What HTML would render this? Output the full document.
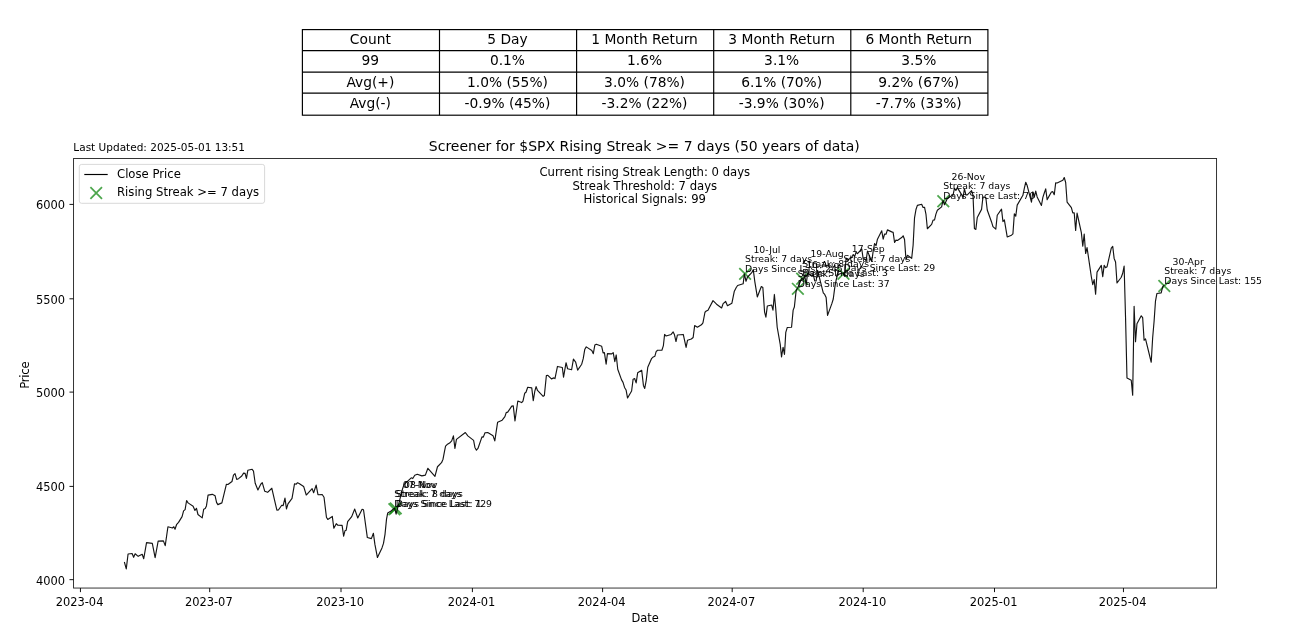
<!DOCTYPE html>
<html lang="en"><head><meta charset="utf-8"><title>Screener for $SPX Rising Streak</title>
<style>
html,body{margin:0;padding:0;background:#fff;}
body{width:1292px;height:634px;overflow:hidden;}
svg{display:block;}
svg text{font-family:'DejaVu Sans', 'Liberation Sans', sans-serif;fill:#000;}
.tbl text{font-size:13.8px;text-anchor:middle;}
.tick text{font-size:11.43px;}
.ann text{font-size:9.32px;white-space:pre;}
.ctr text{font-size:11.65px;text-anchor:middle;}
.leg text{font-size:11.65px;}
</style></head><body>
<svg width="1292" height="634" viewBox="0 0 1292 634">
<rect width="1292" height="634" fill="#fff"/>

<g class="tbl">
<g stroke="#000" stroke-width="1.17" fill="none">
<rect x="302.4" y="29.6" width="685.50" height="85.60"/>
<line x1="302.4" y1="50.60" x2="987.9" y2="50.60"/>
<line x1="302.4" y1="72.10" x2="987.9" y2="72.10"/>
<line x1="302.4" y1="93.20" x2="987.9" y2="93.20"/>
<line x1="439.50" y1="29.6" x2="439.50" y2="115.2"/>
<line x1="576.60" y1="29.6" x2="576.60" y2="115.2"/>
<line x1="713.70" y1="29.6" x2="713.70" y2="115.2"/>
<line x1="850.80" y1="29.6" x2="850.80" y2="115.2"/>
</g>
<text x="370.35" y="44.45">Count</text>
<text x="507.45" y="44.45">5 Day</text>
<text x="644.55" y="44.45">1 Month Return</text>
<text x="781.65" y="44.45">3 Month Return</text>
<text x="918.75" y="44.45">6 Month Return</text>
<text x="370.35" y="65.00">99</text>
<text x="507.45" y="65.00">0.1%</text>
<text x="644.55" y="65.00">1.6%</text>
<text x="781.65" y="65.00">3.1%</text>
<text x="918.75" y="65.00">3.5%</text>
<text x="370.35" y="86.85">Avg(+)</text>
<text x="507.45" y="86.85">1.0% (55%)</text>
<text x="644.55" y="86.85">3.0% (78%)</text>
<text x="781.65" y="86.85">6.1% (70%)</text>
<text x="918.75" y="86.85">9.2% (67%)</text>
<text x="370.35" y="108.40">Avg(-)</text>
<text x="507.45" y="108.40">-0.9% (45%)</text>
<text x="644.55" y="108.40">-3.2% (22%)</text>
<text x="781.65" y="108.40">-3.9% (30%)</text>
<text x="918.75" y="108.40">-7.7% (33%)</text>
</g>
<text x="73.35" y="151.4" font-size="10.53">Last Updated: 2025-05-01 13:51</text>
<text x="645.05" y="150.6" font-size="13.98" text-anchor="middle" dx="-0.7">Screener for $SPX Rising Streak &gt;= 7 days (50 years of data)</text>
<g class="tick">
<g stroke="#000" stroke-width="0.93">
<line x1="80.44" y1="588.05" x2="80.44" y2="592.13"/>
<line x1="209.70" y1="588.05" x2="209.70" y2="592.13"/>
<line x1="341.00" y1="588.05" x2="341.00" y2="592.13"/>
<line x1="472.40" y1="588.05" x2="472.40" y2="592.13"/>
<line x1="602.60" y1="588.05" x2="602.60" y2="592.13"/>
<line x1="732.20" y1="588.05" x2="732.20" y2="592.13"/>
<line x1="863.20" y1="588.05" x2="863.20" y2="592.13"/>
<line x1="994.50" y1="588.05" x2="994.50" y2="592.13"/>
<line x1="1123.44" y1="588.05" x2="1123.44" y2="592.13"/>
<line x1="73.55" y1="579.67" x2="69.47" y2="579.67"/>
<line x1="73.55" y1="486.40" x2="69.47" y2="486.40"/>
<line x1="73.55" y1="392.10" x2="69.47" y2="392.10"/>
<line x1="73.55" y1="298.80" x2="69.47" y2="298.80"/>
<line x1="73.55" y1="204.40" x2="69.47" y2="204.40"/>
</g>
<text x="79.54" y="605.5" text-anchor="middle">2023-04</text>
<text x="208.80" y="605.5" text-anchor="middle">2023-07</text>
<text x="340.10" y="605.5" text-anchor="middle">2023-10</text>
<text x="471.50" y="605.5" text-anchor="middle">2024-01</text>
<text x="601.70" y="605.5" text-anchor="middle">2024-04</text>
<text x="731.30" y="605.5" text-anchor="middle">2024-07</text>
<text x="862.30" y="605.5" text-anchor="middle">2024-10</text>
<text x="993.60" y="605.5" text-anchor="middle">2025-01</text>
<text x="1122.54" y="605.5" text-anchor="middle">2025-04</text>
<text x="65.0" y="584.67" text-anchor="end">4000</text>
<text x="65.0" y="491.40" text-anchor="end">4500</text>
<text x="65.0" y="397.10" text-anchor="end">5000</text>
<text x="65.0" y="303.80" text-anchor="end">5500</text>
<text x="65.0" y="209.40" text-anchor="end">6000</text>
</g>
<text x="645.05" y="621.8" font-size="11.45" text-anchor="middle">Date</text>
<text transform="translate(29,375.27) rotate(-90)" font-size="11.65" letter-spacing="-0.25" text-anchor="middle">Price</text>
<clipPath id="axclip"><rect x="73.55" y="158.5" width="1143.00" height="429.55"/></clipPath>
<g stroke="#008000" stroke-opacity="0.7" stroke-width="1.75" stroke-linecap="butt" fill="none">
<path d="M388.54 503.36L400.20 515.02M388.54 515.02L400.20 503.36"/>
<path d="M389.96 502.54L401.62 514.20M389.96 514.20L401.62 502.54"/>
<path d="M739.28 268.08L750.94 279.74M739.28 279.74L750.94 268.08"/>
<path d="M792.04 283.00L803.70 294.66M792.04 294.66L803.70 283.00"/>
<path d="M796.31 272.88L807.97 284.54M796.31 284.54L807.97 272.88"/>
<path d="M837.66 267.95L849.32 279.61M837.66 279.61L849.32 267.95"/>
<path d="M937.47 195.42L949.13 207.08M937.47 207.08L949.13 195.42"/>
<path d="M1158.47 280.23L1170.13 291.89M1158.47 291.89L1170.13 280.23"/>
</g>
<path d="M124.54 562.58 L126.26 568.83 L128.07 554.00 L132.11 553.49 L133.63 557.33 L135.14 553.79 L138.17 556.32 L142.20 554.30 L143.72 558.74 L146.54 542.59 L152.30 543.40 L155.12 557.73 L158.15 541.08 L163.40 540.88 L165.22 545.62 L167.94 526.75 L172.48 527.96 L173.79 526.75 L175.01 529.27 L176.52 524.73 L178.54 522.41 L182.07 516.65 L183.58 510.90 L185.10 509.59 L186.61 500.50 L188.07 502.89 L193.12 506.23 L194.94 510.46 L196.45 508.24 L197.97 514.50 L202.20 517.83 L203.72 509.15 L205.23 508.45 L206.44 505.92 L208.06 495.12 L212.30 494.32 L215.12 495.83 L216.54 502.39 L217.85 504.61 L221.89 502.89 L226.43 484.22 L227.94 484.53 L231.98 481.50 L233.49 475.14 L235.01 473.63 L236.72 479.38 L238.54 478.67 L241.77 475.95 L243.58 473.12 L245.10 473.32 L246.41 478.47 L247.82 470.29 L252.16 469.29 L253.48 471.10 L255.19 483.21 L257.92 489.98 L260.74 484.22 L262.26 482.71 L264.78 491.29 L267.61 492.30 L271.84 488.26 L274.37 499.36 L276.89 510.16 L278.41 509.96 L281.74 505.22 L283.15 505.62 L284.97 498.15 L286.48 508.95 L287.99 503.90 L292.03 498.35 L294.55 483.72 L296.07 484.22 L297.58 482.71 L299.10 483.42 L303.64 486.44 L306.26 495.03 L312.11 488.67 L313.63 492.71 L316.15 485.14 L317.97 494.73 L322.20 494.53 L324.02 497.25 L326.44 517.23 L327.76 519.45 L332.30 516.43 L333.84 528.26 L336.26 523.72 L337.87 525.23 L342.11 525.43 L343.63 536.13 L344.94 530.78 L346.15 530.28 L347.66 521.70 L351.70 516.65 L354.73 509.08 L357.76 517.97 L362.10 509.29 L363.51 509.79 L367.34 537.55 L371.38 538.66 L373.40 533.31 L374.91 544.41 L377.44 557.53 L381.98 547.94 L383.49 543.40 L385.01 534.32 L386.52 519.18 L387.73 512.92 L391.06 510.90 L394.59 508.07 L396.11 514.13 L402.66 488.45 L404.18 484.41 L411.24 477.85 L412.76 478.55 L414.77 475.32 L417.30 474.32 L421.84 475.83 L425.37 475.12 L427.89 468.26 L434.96 476.33 L437.48 466.75 L441.52 462.71 L443.03 459.18 L444.55 451.10 L445.56 446.06 L447.07 444.54 L449.59 443.03 L451.70 440.88 L453.42 435.83 L454.93 448.45 L456.44 439.36 L465.32 432.50 L467.85 435.83 L473.60 440.37 L474.91 447.44 L476.43 450.16 L477.94 448.45 L481.98 436.84 L483.29 437.14 L485.01 432.80 L487.73 432.60 L493.08 435.83 L494.80 440.88 L497.62 422.20 L502.16 420.19 L504.89 416.65 L506.20 412.62 L507.71 412.11 L511.75 406.06 L513.27 405.85 L514.98 420.99 L517.81 401.01 L521.65 402.58 L522.97 401.06 L524.68 393.29 L525.99 392.28 L527.71 387.23 L531.75 387.94 L533.26 400.56 L534.77 391.47 L536.09 386.63 L537.50 390.46 L543.15 396.32 L544.36 395.51 L546.38 375.53 L547.89 375.32 L551.43 378.86 L553.95 377.85 L554.96 378.55 L557.48 366.44 L562.33 367.45 L563.54 377.14 L566.06 362.71 L567.58 368.76 L571.61 369.77 L573.43 359.18 L575.65 362.20 L577.67 370.08 L581.71 364.22 L583.22 358.67 L584.73 349.59 L586.25 346.86 L591.80 350.60 L593.31 353.63 L594.83 345.05 L596.34 344.24 L601.69 346.26 L603.10 352.92 L604.41 352.62 L606.13 364.22 L607.44 353.63 L611.48 353.93 L613.20 352.62 L614.81 361.70 L616.22 354.94 L617.74 369.27 L621.57 379.87 L623.03 382.39 L624.54 387.44 L626.06 389.96 L627.57 398.03 L631.61 390.97 L633.12 379.16 L634.63 378.55 L636.15 382.89 L637.66 372.80 L641.70 370.28 L643.42 385.42 L644.73 388.45 L646.24 380.37 L647.76 367.25 L651.49 358.67 L652.80 357.36 L654.82 356.35 L656.13 351.61 L657.55 350.29 L661.89 350.29 L663.40 345.55 L664.59 334.45 L666.10 335.97 L671.15 334.45 L673.17 331.93 L674.38 334.45 L675.99 341.52 L677.41 334.96 L683.26 334.45 L686.09 347.37 L687.50 340.31 L691.33 339.00 L693.15 337.48 L694.66 325.57 L697.39 327.19 L701.43 324.87 L702.94 322.85 L704.96 312.25 L706.27 311.04 L707.99 310.23 L713.03 300.64 L716.57 304.18 L721.61 308.01 L723.13 303.67 L725.65 301.45 L727.47 305.69 L731.91 303.17 L734.23 291.56 L736.25 287.52 L737.62 285.53 L743.17 283.81 L744.38 273.72 L745.99 281.29 L747.41 277.25 L751.75 272.71 L753.26 269.68 L754.77 281.29 L757.30 296.93 L761.33 286.54 L762.85 287.55 L764.59 312.11 L765.90 317.16 L767.31 306.06 L771.65 305.05 L772.97 310.09 L774.38 294.45 L775.69 308.07 L777.20 327.25 L780.23 344.41 L781.54 357.02 L783.06 347.23 L784.47 354.50 L785.78 332.30 L787.30 327.45 L791.54 327.25 L793.15 310.09 L794.36 307.06 L796.19 290.10 L797.62 288.03 L801.89 277.91 L803.32 280.00 L804.75 275.55 L806.17 284.96 L807.60 272.97 L811.88 276.30 L813.30 274.63 L814.73 280.93 L816.15 280.97 L817.58 270.39 L823.28 292.78 L824.71 294.44 L826.13 297.56 L827.56 315.36 L831.84 303.63 L833.26 299.04 L834.69 288.06 L836.11 280.25 L837.54 274.58 L841.82 273.26 L843.24 272.98 L844.67 276.04 L846.09 258.16 L847.52 260.24 L851.80 257.24 L853.22 254.55 L854.65 256.55 L856.08 252.22 L857.50 253.57 L861.78 249.01 L863.20 259.08 L864.63 258.93 L866.06 260.73 L867.48 251.15 L871.76 261.48 L873.18 251.14 L874.61 243.47 L876.04 245.72 L877.46 239.16 L881.74 230.76 L883.17 239.12 L884.59 234.02 L886.02 234.21 L887.44 229.86 L891.72 231.86 L893.15 232.39 L894.57 242.46 L896.00 240.13 L897.42 240.46 L901.70 237.57 L903.13 235.81 L904.55 239.42 L905.98 259.70 L907.40 255.32 L911.68 258.34 L913.11 245.21 L914.53 217.80 L915.96 209.54 L917.38 205.34 L921.66 204.25 L923.09 207.50 L924.51 207.24 L925.94 214.03 L927.37 228.75 L931.64 224.44 L933.07 220.06 L934.49 220.03 L935.92 214.11 L937.35 210.25 L941.62 206.87 L943.05 200.45 L944.47 204.74 L947.33 198.43 L951.60 195.66 L953.03 195.15 L954.46 188.29 L955.88 190.42 L957.31 187.58 L961.58 194.60 L963.01 197.96 L964.44 188.72 L965.86 194.90 L967.29 194.93 L971.57 190.62 L972.99 195.02 L974.42 228.46 L975.84 229.41 L977.27 217.46 L981.55 209.36 L982.97 197.00 L985.82 197.46 L987.25 209.96 L991.53 221.94 L992.95 226.68 L995.80 229.13 L997.23 215.28 L1001.51 209.11 L1002.93 221.55 L1004.36 219.82 L1007.21 236.91 L1011.49 235.19 L1012.91 233.94 L1014.34 213.89 L1015.76 216.24 L1017.19 205.13 L1022.89 195.27 L1024.32 188.31 L1025.75 182.25 L1027.17 185.53 L1031.45 202.20 L1032.87 191.81 L1034.30 197.13 L1035.73 191.16 L1037.15 196.90 L1041.43 205.52 L1042.86 197.40 L1044.28 192.98 L1045.71 188.84 L1047.13 199.63 L1051.41 192.05 L1052.84 191.66 L1054.26 194.76 L1055.69 182.94 L1057.11 183.02 L1062.82 180.22 L1064.24 177.49 L1065.67 182.48 L1067.09 202.04 L1071.37 207.64 L1072.80 212.89 L1074.22 212.73 L1075.65 230.44 L1077.07 213.03 L1081.35 232.66 L1082.78 246.07 L1084.20 233.99 L1085.63 253.50 L1087.05 247.56 L1091.33 276.73 L1092.76 284.69 L1094.18 279.59 L1095.61 294.17 L1097.04 272.16 L1101.31 265.38 L1102.74 276.71 L1104.16 265.35 L1105.59 267.67 L1107.02 266.80 L1111.29 248.06 L1112.72 246.36 L1114.14 258.43 L1115.57 261.97 L1117.00 283.03 L1121.27 277.24 L1122.70 273.26 L1124.13 266.16 L1125.55 317.59 L1126.98 378.02 L1131.25 380.23 L1132.68 395.13 L1134.11 306.28 L1135.53 341.67 L1136.96 323.81 L1141.24 315.82 L1142.66 317.57 L1144.09 340.23 L1145.51 338.92 L1151.22 362.25 L1152.64 337.97 L1154.07 321.46 L1155.49 301.05 L1156.92 293.48 L1161.20 292.81 L1162.62 286.80 L1164.05 285.26" fill="none" stroke="#000" stroke-opacity="0.92" stroke-width="1.15" stroke-linejoin="round" stroke-linecap="square" clip-path="url(#axclip)"/>
<rect x="73.55" y="158.5" width="1143.00" height="429.55" fill="none" stroke="#000" stroke-opacity="0.85" stroke-width="0.93"/>
<g class="ann">
<text x="402.67" y="487.89">07-Nov</text>
<text x="394.37" y="497.09">Streak: 7 days</text>
<text x="394.37" y="506.89">Days Since Last: 729</text>
<text x="404.09" y="487.89">08-Nov</text>
<text x="395.79" y="497.09">Streak: 8 days</text>
<text x="395.79" y="506.89">Days Since Last: 1</text>
<text x="753.41" y="252.61">10-Jul</text>
<text x="745.11" y="261.81">Streak: 7 days</text>
<text x="745.11" y="271.61">Days Since Last: 245</text>
<text x="806.17" y="267.53">16-Aug</text>
<text x="797.87" y="276.73">Streak: 7 days</text>
<text x="797.87" y="286.53">Days Since Last: 37</text>
<text x="810.44" y="257.41">19-Aug</text>
<text x="802.14" y="266.61">Streak: 8 days</text>
<text x="802.14" y="276.41">Days Since Last: 3</text>
<text x="851.79" y="252.48">17-Sep</text>
<text x="843.49" y="261.68">Streak: 7 days</text>
<text x="843.49" y="271.48">Days Since Last: 29</text>
<text x="951.60" y="179.95">26-Nov</text>
<text x="943.30" y="189.15">Streak: 7 days</text>
<text x="943.30" y="198.95">Days Since Last: 70</text>
<text x="1172.60" y="264.76">30-Apr</text>
<text x="1164.30" y="273.96">Streak: 7 days</text>
<text x="1164.30" y="283.76">Days Since Last: 155</text>
</g>
<g class="ctr">
<text x="644.8" y="176.3">Current rising Streak Length: 0 days</text>
<text x="644.8" y="189.7">Streak Threshold: 7 days</text>
<text x="644.8" y="203.1">Historical Signals: 99</text>
</g>
<g class="leg">
<rect x="79.3" y="164.4" width="185.3" height="38.9" rx="2.3" ry="2.3" fill="#fff" fill-opacity="0.8" stroke="#ccc" stroke-opacity="0.8" stroke-width="0.93"/>
<line x1="84.3" y1="174.5" x2="107.7" y2="174.5" stroke="#000" stroke-width="1.17"/>
<path d="M90.4 187.2L102.0 198.8M90.4 198.8L102.0 187.2" stroke="#008000" stroke-opacity="0.7" stroke-width="1.75" fill="none"/>
<text x="117" y="178.4">Close Price</text>
<text x="117" y="195.8">Rising Streak &gt;= 7 days</text>
</g>
</svg></body></html>
